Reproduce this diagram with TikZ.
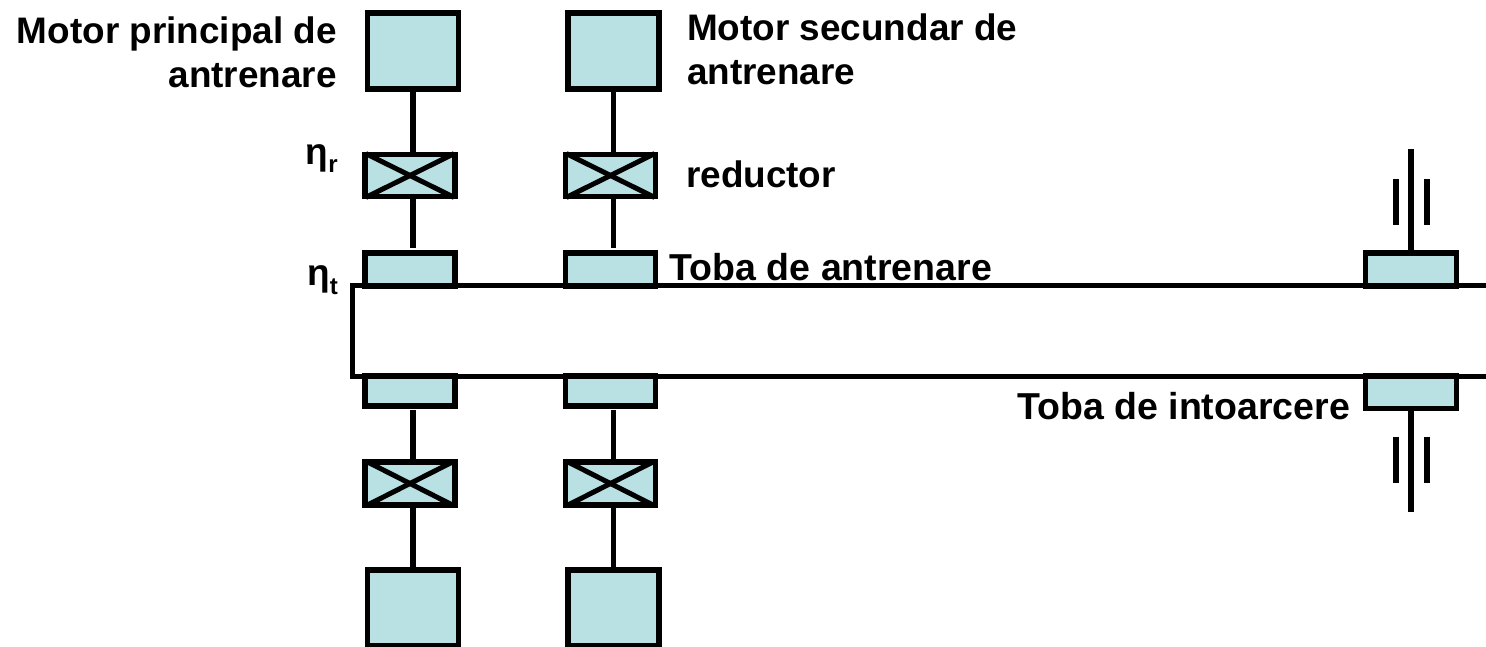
\documentclass[tikz,border=0pt]{standalone}
\usepackage{fontspec}
\setmainfont{Liberation Sans}[BoldFont={Liberation Sans Bold}]
\definecolor{boxfill}{HTML}{B9E0E3}
\tikzset{
  x=1pt,y=-1pt,
  part/.style={draw=black,line width=5.3pt,fill=boxfill,minimum width=0pt,inner sep=0pt,miter limit=10},
  shaft/.style={draw=black,line width=5.3pt},
  thinbar/.style={draw=black,line width=5.3pt},
  crossline/.style={draw=black,line width=5pt,shorten >=4pt,shorten <=4pt},
  label/.style={font=\fontsize{36.9}{43.5}\selectfont\bfseries,inner sep=0pt,align=left},
  tobalabel/.style={font=\fontsize{37.5}{43.5}\selectfont\bfseries,inner sep=0pt,align=left},
  rlabel/.style={font=\fontsize{36.9}{44.7}\selectfont\bfseries,inner sep=0pt,align=right},
  eta/.style={font=\fontsize{37}{44}\selectfont\bfseries,inner sep=0pt,anchor=base west},
}
\newcommand{\boxat}[5]{\node[part,minimum width=#4pt,minimum height=#5pt] (#1) at (#2,#3) {};}
\newcommand{\subidx}[1]{\raisebox{-8.5pt}{\fontsize{24}{24}\selectfont #1}}
\begin{document}
\begin{tikzpicture}
\useasboundingbox (0,0) rectangle (1486,646);
% belt
\coordinate (bTR) at (1486,285.5);
\coordinate (bTL) at (352.3,285.5);
\coordinate (bBL) at (352.3,376.3);
\coordinate (bBR) at (1486,376.3);
\draw[line width=4.8pt,miter limit=10] (bTR) -- (bTL) -- (bBL) -- (bBR);
% motors
\boxat{m1}{413}{51}{91}{76}
\boxat{m2}{613.5}{51}{91}{76}
\boxat{m3}{413}{608}{91}{76}
\boxat{m4}{613.5}{608}{91}{76}
% gearboxes
\boxat{g1}{410}{175.5}{90}{42}
\boxat{g2}{610.5}{175.5}{90}{42}
\boxat{g3}{410}{483.5}{90}{43}
\boxat{g4}{610.5}{483.5}{90}{43}
\foreach \g in {g1,g2,g3,g4}{
  \draw[crossline] (\g.north west) -- (\g.south east);
  \draw[crossline] (\g.south west) -- (\g.north east);
}
% drums
\boxat{d1}{410}{269.5}{90}{33}
\boxat{d2}{610.5}{269.5}{90}{33}
\boxat{d3}{1411}{269.5}{90.5}{33}
\boxat{d4}{410}{391}{90}{30}
\boxat{d5}{610.5}{391}{90}{30}
\boxat{d6}{1411}{392.2}{90.5}{32.5}
% shafts
\coordinate (a1) at (413,248);
\coordinate (a2) at (613.5,248);
\coordinate (a3) at (413,410);
\coordinate (a4) at (613.5,410);
\draw[shaft] (m1.south) -- (413,153);
\draw[shaft] (m2.south) -- (613.5,153);
\draw[shaft] (413,198) -- (a1);
\draw[shaft] (613.5,198) -- (a2);
\draw[shaft] (a3) -- (413,461);
\draw[shaft] (a4) -- (613.5,461);
\draw[shaft] (413,506) -- (m3.north);
\draw[shaft] (613.5,506) -- (m4.north);
\coordinate (t1) at (1411,149.3);
\coordinate (t2) at (1411,512);
\draw[shaft] (t1) -- (d3.north -| t1);
\draw[shaft] (t2) -- (d6.south -| t2);
% bars
\draw[thinbar] (1396,179.3) -- (1396,225);
\draw[thinbar] (1427,179.3) -- (1427,225);
\draw[thinbar] (1396,436.7) -- (1396,482.5);
\draw[thinbar] (1427,436.7) -- (1427,482.5);
% labels
\node[rlabel,anchor=base east] (l1) at (337,87.7) {Motor principal de\\antrenare};
\node[label,anchor=base west] (l2) at (687,84.2) {Motor secundar de\\antrenare};
\node[label,anchor=base west] (l3) at (686,187.5) {reductor};
\node[tobalabel,anchor=base west] (l4) at (669.5,280) {Toba de antrenare};
\node[tobalabel,anchor=base west] (l5) at (1017,419) {Toba de intoarcere};
\node[eta] (l6) at (305.5,164) {\fontspec{Liberation Sans Bold}η\subidx{r}};
\node[eta] (l7) at (307,285.5) {\fontspec{Liberation Sans Bold}η\subidx{t}};
\end{tikzpicture}
\end{document}
